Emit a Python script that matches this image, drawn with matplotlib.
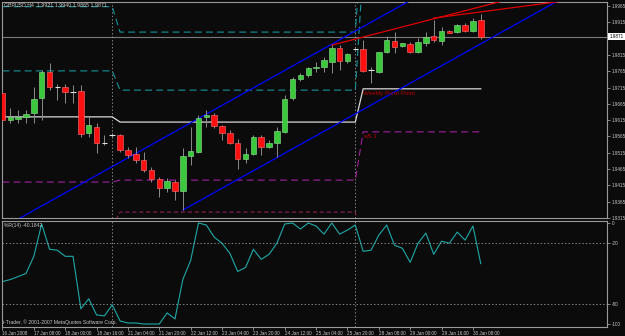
import numpy as np
import matplotlib.pyplot as plt
from matplotlib.transforms import blended_transform_factory

plt.rcParams['font.family'] = ['Liberation Sans', 'DejaVu Sans']
plt.rcParams['lines.scale_dashes'] = False

# GBPUSD H4 candles, 16 Jan 16:00 .. 30 Jan 08:00 (2008)
opens = [1.9698, 1.9615, 1.9617, 1.9625, 1.9637, 1.9683, 1.9763, 1.9717, 1.9717, 1.9701,
         1.9704, 1.9576, 1.9594, 1.9545, 1.9569, 1.9569, 1.9523, 1.9511, 1.9493, 1.9462,
         1.9434, 1.9407, 1.9425, 1.9398, 1.9505, 1.9517, 1.9625, 1.9631, 1.9597, 1.9576,
         1.9545, 1.9496, 1.9511, 1.9563, 1.9533, 1.9545, 1.9579, 1.9683, 1.9741, 1.9753,
         1.9775, 1.9778, 1.9793, 1.9836, 1.9796, 1.9833, 1.9833, 1.9769, 1.9763, 1.9824,
         1.9858, 1.9842, 1.9848, 1.9824, 1.9852, 1.9873, 1.9858, 1.9888, 1.9885, 1.9907,
         1.9888, 1.9921]
highs = [1.9707, 1.9652, 1.9646, 1.9646, 1.9717, 1.9769, 1.9790, 1.9726, 1.9726, 1.9723,
         1.9723, 1.9625, 1.9606, 1.9569, 1.9576, 1.9572, 1.9533, 1.9533, 1.9517, 1.9471,
         1.9441, 1.9438, 1.9431, 1.9530, 1.9594, 1.9631, 1.9646, 1.9637, 1.9600, 1.9585,
         1.9557, 1.9530, 1.9569, 1.9569, 1.9554, 1.9594, 1.9692, 1.9747, 1.9760, 1.9778,
         1.9793, 1.9809, 1.9845, 1.9845, 1.9821, 1.9836, 1.9861, 1.9778, 1.9824, 1.9873,
         1.9885, 1.9852, 1.9855, 1.9867, 1.9885, 1.9922, 1.9901, 1.9891, 1.9910, 1.9913,
         1.9928, 1.9940]
lows = [1.9606, 1.9606, 1.9606, 1.9606, 1.9606, 1.9615, 1.9707, 1.9677, 1.9668, 1.9668,
        1.9563, 1.9563, 1.9514, 1.9539, 1.9563, 1.9517, 1.9499, 1.9484, 1.9456, 1.9425,
        1.9379, 1.9395, 1.9370, 1.9339, 1.9477, 1.9514, 1.9594, 1.9591, 1.9554, 1.9542,
        1.9465, 1.9484, 1.9508, 1.9508, 1.9530, 1.9502, 1.9576, 1.9677, 1.9735, 1.9747,
        1.9763, 1.9763, 1.9760, 1.9769, 1.9790, 1.9830, 1.9763, 1.9729, 1.9760, 1.9821,
        1.9821, 1.9839, 1.9821, 1.9821, 1.9842, 1.9855, 1.9845, 1.9882, 1.9882, 1.9885,
        1.9885, 1.9865]
closes = [1.9615, 1.9625, 1.9626, 1.9634, 1.9680, 1.9763, 1.9717, 1.9717, 1.9701, 1.9701,
          1.9572, 1.9600, 1.9545, 1.9545, 1.9569, 1.9523, 1.9508, 1.9493, 1.9462, 1.9434,
          1.9407, 1.9428, 1.9398, 1.9505, 1.9520, 1.9622, 1.9631, 1.9597, 1.9576, 1.9545,
          1.9496, 1.9511, 1.9563, 1.9533, 1.9545, 1.9582, 1.9680, 1.9741, 1.9753, 1.9775,
          1.9778, 1.9799, 1.9836, 1.9796, 1.9818, 1.9833, 1.9766, 1.9769, 1.9824, 1.9861,
          1.9839, 1.9852, 1.9824, 1.9855, 1.9870, 1.9861, 1.9888, 1.9882, 1.9907, 1.9888,
          1.9919, 1.9871]

# Williams %R(14)
wpr = [-58, -56, -53, -50, -33, -1, -26, -27, -33, -33,
       -85, -75, -91, -92, -81, -97, -99, -99, -100, -100,
       -100, -89, -95, -56, -37, 0, -2, -14, -20, -30,
       -48, -44, -26, -36, -31, -20, -1, 0, -6, 0,
       -3, -11, 0, -11, -7, -2, -28, -27, -12, -2,
       -22, -25, -39, -20, -10, -31, -18, -20, -9, -17,
       -3, -40.1842]

# weekly pivot levels (first bar of each week)
week_start = [0, 15, 46]
week_pp = [1.9625, 1.9609, 1.9711]
week_r1 = [1.9766, 1.9707, 2.0082]
week_r2 = [1.9963, 1.9885, 2.0216]
week_s1 = [1.9425, 1.9431, 1.9579]
week_s2 = [1.9287, 1.9333, 1.9204]
separators = [14, 45]

# trend lines: (bar, price) anchor pairs
channel_up = [(25, 1.9620), (42, 1.9848)]
channel_dn = [(23, 1.9339), (42, 1.9594)]
red_a = [(42, 1.9845), (61, 1.9963)]
red_b = [(55, 1.9928), (61, 1.9947)]

price_ticks = [1.9315, 1.9365, 1.9415, 1.9465, 1.9515, 1.9565, 1.9615,
               1.9665, 1.9715, 1.9765, 1.9815, 1.9865, 1.9915, 1.9965]

tick_idx = [0, 4, 8, 12, 16, 20, 24, 28, 32, 36, 40, 44, 48, 52, 56, 60]
tick_labels = ['16 Jan 2008', '17 Jan 08:00', '18 Jan 00:00', '18 Jan 16:00',
               '21 Jan 04:00', '21 Jan 20:00', '22 Jan 12:00', '23 Jan 04:00',
               '23 Jan 20:00', '24 Jan 12:00', '25 Jan 04:00', '25 Jan 20:00',
               '28 Jan 08:00', '29 Jan 00:00', '29 Jan 16:00', '30 Jan 08:00']

bg = '#0b0b0b'
txt = '#c8c8c8'
grid = '#9a9a9a'
teal = '#17949b'

fig = plt.figure(figsize=(6.25, 3.36), dpi=100, facecolor=bg)
ax = fig.add_axes([2 / 625, 1 - 218 / 336, 605 / 625, 216 / 336])
ax2 = fig.add_axes([2 / 625, 1 - 327 / 336, 605 / 625, 106 / 336], sharex=ax)
for a in (ax, ax2):
    a.set_facecolor(bg)
    for s in a.spines.values():
        s.set_color(grid)
        s.set_linewidth(0.8)

idx = np.arange(len(opens))
o = np.array(opens)
h = np.array(highs)
l = np.array(lows)
c = np.array(closes)

ax.set_xlim(-0.06, 77.1)
ax.set_ylim(1.93148, 1.99773)

# bid line
ax.axhline(c[-1], color='#7a7a7a', lw=0.8, zorder=1)

# weekly pivots, one value per bar
week_of = np.searchsorted(week_start, idx, side='right') - 1
ax.plot(idx, np.array(week_r2)[week_of], color=teal, lw=0.8, dashes=(5, 3), zorder=2)
ax.plot(idx, np.array(week_r1)[week_of], color=teal, lw=0.8, dashes=(5, 3), zorder=2)
ax.plot(idx, np.array(week_s1)[week_of], color='#a020a0', lw=0.8, dashes=(5, 3), zorder=2)
ax.plot(idx, np.array(week_s2)[week_of], color='#8b2252', lw=0.8, dashes=(3, 2), zorder=2)
ax.plot(idx, np.array(week_pp)[week_of], color='#d8d8d8', lw=0.9, zorder=2)

for sx in separators:
    ax.axvline(sx, color=grid, lw=0.6, ls=(0, (1, 1.5)), zorder=1)
    ax2.axvline(sx, color=grid, lw=0.6, ls=(0, (1, 1.5)), zorder=1)


def ray(pts, start, end):
    (i0, p0), (i1, p1) = pts
    k = (p1 - p0) / (i1 - i0)
    xs = np.array([start, end])
    return xs, p0 + k * (xs - i0)


for pts, col, start in [(channel_up, '#0000ff', 0), (channel_dn, '#0000ff', 23),
                        (red_a, '#e00000', 42), (red_b, '#e00000', 55)]:
    xs, ys = ray(pts, start, 80)
    ax.plot(xs, ys, color=col, lw=0.9, zorder=3)

# candles
ax.vlines(idx, l, h, color='#8c8c8c', lw=0.7, zorder=4)
up = c > o
dn = c < o
dj = c == o
ax.bar(idx[up], (c - o)[up], bottom=o[up], width=0.7, color='#3cc83c',
       edgecolor='#8fe08f', lw=0.4, zorder=5)
ax.bar(idx[dn], (c - o)[dn], bottom=o[dn], width=0.7, color='#ff1010',
       edgecolor='#ff7070', lw=0.4, zorder=5)
ax.hlines(o[dj], idx[dj] - 0.35, idx[dj] + 0.35, color='#e0e0e0', lw=0.8, zorder=5)

ax.text(46, 1.9698, 'Weekly Pivot Point', color='#b40000', fontsize=4.5,
        ha='left', va='center', zorder=6)
ax.text(46, 1.9566, 'wS 1', color='#b40000', fontsize=4.5, ha='left', va='center', zorder=6)

# price scale; the label under the bid box stays hidden, as in the terminal
ax.yaxis.tick_right()
ax.set_yticks(price_ticks)
ax.set_yticklabels(['' if abs(v - c[-1]) < 0.001 else f'{v:.4f}' for v in price_ticks])
ax.tick_params(axis='y', colors=grid, labelcolor=txt, labelsize=3.3, length=2, width=0.6, pad=1.5)
ax.tick_params(axis='x', bottom=False, labelbottom=False)
tr = blended_transform_factory(ax.transAxes, ax.transData)
ax.text(1.004, c[-1], f'{c[-1]:.4f}', transform=tr, color='black', fontsize=3.3,
        va='center', ha='left', bbox=dict(facecolor='white', edgecolor='none', pad=0.8), zorder=10)

# Williams %R pane
ax2.set_ylim(-102.97, 1.98)
ax2.plot(idx, wpr, color='#20a8a8', lw=0.8)
for lv in (-20, -80):
    ax2.axhline(lv, color=grid, lw=0.6, ls=(0, (1, 1.5)))
ax2.yaxis.tick_right()
ax2.set_yticks([0, -20, -80, -100])
ax2.set_yticklabels(['0', '-20', '-80', '-100'])
ax2.tick_params(axis='y', colors=grid, labelcolor=txt, labelsize=3.3, length=2, width=0.6, pad=1.5)
ax2.set_xticks(tick_idx)
ax2.set_xticklabels(tick_labels, ha='left')
ax2.tick_params(axis='x', colors=grid, labelcolor=txt, labelsize=3.3, length=2, width=0.6, pad=1)

fig.text(4 / 625, 1 - 5 / 336, 'GBPUSD,H4  1.9921 1.9940 1.9865 1.9871', color=txt,
         fontsize=3.8, va='center', ha='left')
fig.text(4 / 625, 1 - 226 / 336, '%R(14) -40.1842', color=txt, fontsize=3.6, va='center', ha='left')
fig.text(3 / 625, 1 - 322 / 336, 'i-Trader, \u00a9 2001-2007 MetaQuotes Software Corp.', color=txt,
         fontsize=3.6, va='center', ha='left')

fig.savefig('out.png', dpi=100, facecolor=bg)
